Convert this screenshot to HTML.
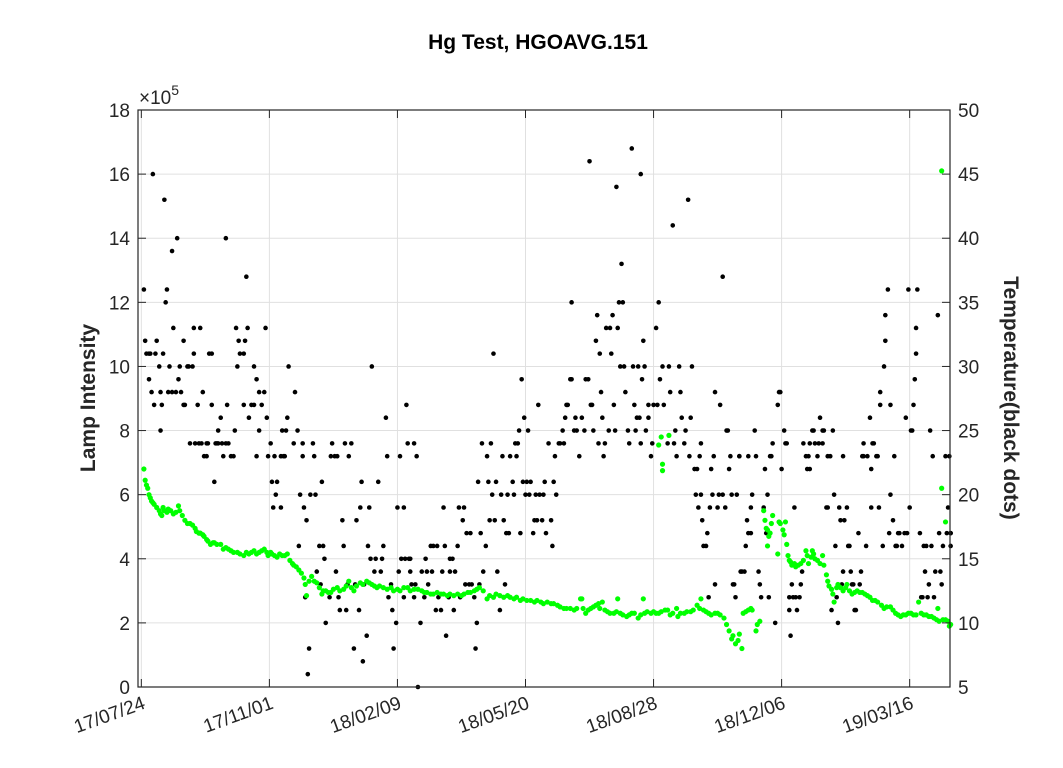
<!DOCTYPE html>
<html><head><meta charset="utf-8"><title>Hg Test, HGOAVG.151</title>
<style>
html,body{margin:0;padding:0;background:#fff;}
svg{display:block;font-family:"Liberation Sans",Arial,sans-serif;}
</style></head>
<body>
<svg id="chart" width="1063" height="768" viewBox="0 0 1063 768" xmlns="http://www.w3.org/2000/svg">
<rect x="0" y="0" width="1063" height="768" fill="#fff"/>
<text x="538" y="49" text-anchor="middle" font-size="21" font-weight="bold" fill="#000">Hg Test, HGOAVG.151</text>
<g id="grid"></g>
<g id="marks"></g>
<g id="axes"></g>
<text x="139" y="104" font-size="19" fill="#262626">×10<tspan dy="-9" font-size="14">5</tspan></text>
<text transform="translate(95,398) rotate(-90)" text-anchor="middle" font-size="21" font-weight="bold" fill="#262626">Lamp Intensity</text>
<text transform="translate(1004,398) rotate(90)" text-anchor="middle" font-size="21" font-weight="bold" fill="#262626">Temperature(black dots)</text>
</svg>
<script>
const xTickDays = [0,100,200,300,400,500,600];
const xTickLabels = ["17/07/24","17/11/01","18/02/09","18/05/20","18/08/28","18/12/06","19/03/16"];
const yTicks = [0,2,4,6,8,10,12,14,16,18];
const y2Ticks = [5,10,15,20,25,30,35,40,45,50];

const tempDay = [
2,3,4,6,6,7,8,9,10,11,
12,14,15,15,16,17,18,19,20,21,
22,24,24,25,27,28,29,30,31,33,
33,34,36,37,38,40,41,41,42,44,
45,46,47,48,49,51,51,52,53,55,
55,57,58,59,60,60,62,63,64,66,
66,67,68,70,72,73,74,75,76,77,
80,80,81,82,83,84,86,88,88,90,
90,92,92,94,96,97,98,99,101,102,
103,104,105,106,109,109,110,111,112,113,
114,115,119,120,122,123,124,126,126,127,
128,129,130,131,132,134,135,136,137,139,
140,141,142,143,144,147,148,149,151,152,
153,154,155,157,158,159,160,161,162,164,
166,167,168,170,171,172,173,174,176,177,
178,179,180,182,183,185,187,188,189,191,
192,193,195,196,197,199,200,201,202,203,
205,205,207,208,209,206,210,210,211,213,
213,214,215,216,218,219,221,222,223,224,
226,227,228,230,231,232,234,235,236,237,
238,240,241,241,243,244,245,247,248,249,
251,252,253,254,256,257,258,260,261,262,
263,264,265,266,267,269,270,271,272,273,
274,275,276,277,278,280,281,282,283,284,
285,286,287,288,290,291,292,293,294,295,
296,297,298,299,300,301,302,303,304,306,
307,308,309,310,311,313,314,315,316,318,
320,321,322,323,324,326,327,329,330,331,
332,333,335,336,336,338,339,340,342,344,
346,347,349,350,351,352,353,355,356,357,
358,359,360,361,362,363,365,366,367,368,
369,370,371,372,373,374,375,376,377,378,
380,381,383,384,385,386,387,388,389,390,
390,391,392,393,394,396,396,398,399,400,
402,403,404,405,407,408,411,412,413,415,
416,417,418,420,421,422,424,425,427,428,
429,430,432,433,434,435,436,437,437,438,
439,441,442,443,444,445,446,447,448,448,
450,451,452,454,454,456,457,458,459,460,
461,462,463,464,465,467,467,468,469,471,
472,473,474,474,476,476,477,479,480,482,
483,484,486,487,488,489,490,491,492,493,
495,497,498,499,500,502,503,504,506,506,
507,508,509,510,511,512,514,515,516,517,
519,520,521,522,522,524,525,526,528,529,
530,532,532,533,535,536,536,538,539,540,
541,542,543,544,545,546,547,548,548,549,
551,552,553,554,555,556,557,558,560,561,
562,563,564,564,566,567,569,570,570,571,
572,574,575,576,577,577,579,580,581,581,
583,584,585,585,587,588,589,590,591,592,
594,596,597,598,599,600,601,602,603,604,
605,605,606,608,609,610,611,612,613,614,
615,616,617,618,619,620,622,623,624,625,
626,628,629,630,631,632,632,632];
const tempC = [
36,32,31,31,29,31,28,45,27,31,
32,30,28,25,27,31,43,35,36,28,
30,28,39,33,28,40,29,30,28,27,
32,27,30,30,24,30,31,33,24,27,
24,33,24,28,23,24,23,24,31,31,
27,21,24,24,24,25,26,24,23,24,
40,27,24,23,23,25,33,30,32,31,
31,27,32,37,33,26,27,27,30,23,
29,28,25,27,28,33,26,23,24,21,
19,23,20,21,19,23,25,23,23,25,
26,30,24,28,25,16,20,23,24,19,
12,18,6,8,20,24,23,20,14,16,
13,21,16,15,10,12,23,24,23,14,
23,12,11,18,16,24,11,13,23,24,
8,13,18,11,19,21,7,13,9,16,
19,15,30,14,15,21,14,15,16,26,
23,12,13,11,8,10,19,14,23,15,
19,12,27,24,15,15,14,15,13,24,
12,13,23,5,10,14,12,15,14,13,
16,14,16,11,16,12,11,14,19,16,
9,12,14,15,15,11,14,16,19,12,
18,19,13,17,13,17,13,12,8,10,
21,13,17,24,14,16,23,21,18,24,
20,31,18,21,14,11,20,23,18,13,
17,20,17,23,21,20,24,23,24,25,
17,29,21,26,20,21,25,20,21,17,
18,20,18,27,20,18,20,21,17,24,
18,16,21,23,20,24,24,25,24,26,
27,27,29,29,35,25,26,25,23,26,
25,29,29,46,27,27,25,32,34,24,
31,28,26,23,24,33,25,33,31,34,
27,25,44,33,35,30,38,35,30,28,
25,24,47,30,27,25,26,30,26,24,
45,29,32,30,25,26,27,23,24,27,
33,27,35,29,30,27,24,30,28,41,
24,25,23,30,28,26,24,25,43,23,
26,30,22,20,22,19,23,24,20,18,
16,16,17,12,19,22,20,23,13,28,
19,20,27,20,37,19,25,25,22,23,
20,13,13,12,20,23,23,14,14,14,
16,18,17,23,17,19,20,25,23,14,
13,12,19,22,17,20,12,23,23,24,
10,27,28,28,22,25,24,24,12,11,
9,13,12,19,12,11,12,13,14,24,
23,22,23,22,24,25,25,24,23,24,
26,25,24,25,19,19,23,23,11,25,
20,16,12,10,19,18,13,23,14,18,
19,16,16,14,13,13,11,11,17,13,
14,23,24,23,16,23,26,22,19,24,
24,23,23,19,28,27,16,30,32,34,
36,17,27,20,18,23,16,16,17,17,
16,17,26,17,36,19,25,25,27,29,
33,31,36,17,12,12,16,14,16,12,
13,25,16,23,12,14,34,17,14,13,
16,23,17,19,23,17,16,17];

const lampDay = [
2,3,4,5,6,7,8,9,10,12,14,15,16,17,18,20,21,23,25,27,
29,30,32,34,36,38,40,42,43,45,46,48,49,51,52,54,56,57,59,62,
64,66,68,70,72,75,77,80,82,84,86,88,90,92,94,96,98,99,101,102,
104,106,108,110,112,114,116,118,119,121,123,125,127,128,129,131,133,135,137,139,
141,142,144,146,148,150,153,155,158,160,162,164,166,168,171,173,176,178,180,182,
184,186,189,192,195,197,200,202,205,208,210,213,216,219,221,223,226,228,231,234,
236,239,241,244,247,250,252,255,257,260,262,264,267,270,272,275,277,280,283,286,
288,291,293,296,298,301,304,307,309,312,314,317,320,322,325,327,330,332,335,338,
340,343,344,345,347,349,351,353,355,357,358,360,362,364,366,369,371,372,374,376,
379,381,383,385,388,390,392,393,395,398,400,402,404,406,407,407,412,404,406,409,
411,413,415,418,419,421,424,426,429,431,434,436,437,439,441,443,445,448,450,452,
455,457,459,461,462,464,466,467,469,470,472,474,476,477,480,481,483,486,487,488,
489,489,490,491,492,493,497,498,499,501,502,503,504,505,506,507,508,510,511,513,
515,517,519,520,521,523,524,525,526,528,530,532,533,535,536,537,539,540,541,543,
544,546,548,550,551,553,555,557,559,561,563,565,567,569,571,573,575,578,580,582,
585,587,589,591,593,595,597,599,601,603,605,607,609,611,613,615,617,619,621,622,
623,625,625,628,626,628,630,631,632];
const lampVal = [
6.8,6.45,6.3,6.2,6.0,5.9,5.8,5.75,5.7,5.6,5.5,5.4,5.35,5.6,5.5,5.45,5.55,5.5,5.4,5.45,
5.65,5.5,5.35,5.2,5.1,5.1,5.05,4.95,4.85,4.8,4.8,4.75,4.7,4.6,4.55,4.45,4.5,4.5,4.45,4.45,
4.3,4.35,4.3,4.25,4.2,4.2,4.15,4.1,4.2,4.15,4.2,4.25,4.15,4.2,4.25,4.3,4.2,4.1,4.2,4.15,
4.1,4.05,4.15,4.1,4.1,4.15,3.95,3.85,3.8,3.75,3.65,3.55,3.4,3.2,2.85,3.3,3.45,3.3,3.25,3.1,
2.9,3.0,3.0,2.95,2.95,3.05,3.1,3.0,3.05,3.15,3.3,3.1,3.0,3.15,3.25,3.2,3.3,3.25,3.2,3.15,
3.1,3.15,3.1,3.05,3.1,3.0,3.05,3.0,3.1,3.1,3.0,3.05,3.05,3.0,2.95,2.95,2.9,2.9,2.95,2.9,
2.9,2.85,2.9,2.85,2.9,2.85,2.9,2.95,2.95,3.0,3.05,3.1,3.0,2.75,2.85,2.8,2.9,2.85,2.8,2.85,
2.8,2.75,2.8,2.7,2.75,2.7,2.7,2.65,2.7,2.65,2.6,2.65,2.6,2.6,2.55,2.5,2.45,2.45,2.45,2.4,
2.45,2.75,2.75,2.45,2.3,2.4,2.45,2.5,2.55,2.6,2.45,2.65,2.4,2.35,2.3,2.3,2.35,2.75,2.3,2.25,
2.2,2.25,2.3,2.3,2.15,2.25,2.75,2.3,2.35,2.3,2.35,2.3,7.55,7.8,6.95,6.75,7.85,2.3,2.35,2.4,
2.4,2.25,2.3,2.45,2.2,2.3,2.3,2.35,2.35,2.4,2.55,2.45,2.75,2.4,2.35,2.3,2.25,2.3,2.3,2.25,
2.15,1.95,1.75,1.5,1.6,1.35,1.45,1.65,1.2,2.3,2.35,2.4,2.45,2.4,1.75,1.95,2.05,5.5,5.2,4.95,
4.9,4.4,4.7,4.8,5.1,5.35,4.15,5.15,5.1,4.9,4.75,5.15,4.45,4.1,3.95,3.9,3.8,3.85,3.75,3.8,
3.85,3.95,4.25,4.1,3.85,4.05,4.25,4.15,4.0,3.95,3.85,4.1,3.8,3.5,3.3,3.15,3.05,2.9,2.65,3.1,
3.2,3.1,3.0,3.1,3.2,3.0,2.9,2.95,3.0,2.95,2.95,2.9,2.85,2.8,2.7,2.7,2.65,2.55,2.45,2.5,
2.5,2.4,2.3,2.25,2.2,2.25,2.25,2.3,2.3,2.25,2.25,2.65,2.3,2.25,2.25,2.2,2.2,2.15,2.1,2.45,
2.05,16.1,6.2,5.15,2.1,2.1,2.05,1.9,1.95];

const NS = "http://www.w3.org/2000/svg";
const PL = 138, PR = 950, PT = 110, PB = 687;
const D0 = -2.6, D1 = 631.5;
function xS(d){ return PL + (d - D0) / (D1 - D0) * (PR - PL); }
function yL(v){ return PB - v / 18 * (PB - PT); }
function yR(t){ return PB - (t - 5) / 45 * (PB - PT); }
function mk(tag, attrs, parent){
  const e = document.createElementNS(NS, tag);
  for (const k in attrs) e.setAttribute(k, attrs[k]);
  parent.appendChild(e);
  return e;
}
const grid = document.getElementById('grid');
const axes = document.getElementById('axes');
const marks = document.getElementById('marks');

xTickDays.forEach((d, i) => {
  const x = xS(d);
  const g = mk('line', {x1:x, x2:x, y1:PT, y2:PB, stroke:'#e0e0e0', 'stroke-width':1}, grid);
  
  
  const t1 = mk('line', {x1:x, x2:x, y1:PB, y2:PB-8, stroke:'#262626', 'stroke-width':1}, axes);
  
  
  const t2 = mk('line', {x1:x, x2:x, y1:PT, y2:PT+8, stroke:'#262626', 'stroke-width':1}, axes);
  
  
  const lb = mk('text', {x:0, y:0, 'text-anchor':'end', 'font-size':19, fill:'#262626',
    transform:'translate(' + (x + 5) + ',' + (PB + 21) + ') rotate(-20)'}, axes);
  lb.textContent = xTickLabels[i];
  
  
});
yTicks.forEach(v => {
  const y = yL(v);
  const g = mk('line', {x1:PL, x2:PR, y1:y, y2:y, stroke:'#e0e0e0', 'stroke-width':1}, grid);
  
  
  const t = mk('line', {x1:PL, x2:PL+8, y1:y, y2:y, stroke:'#262626', 'stroke-width':1}, axes);
  
  
  const lb = mk('text', {x:PL - 8, y:y + 7, 'text-anchor':'end', 'font-size':19, fill:'#262626'}, axes);
  lb.textContent = v;
  
  
});
y2Ticks.forEach(v => {
  const y = yR(v);
  const t = mk('line', {x1:PR-8, x2:PR, y1:y, y2:y, stroke:'#262626', 'stroke-width':1}, axes);
  
  
  const lb = mk('text', {x:PR + 8, y:y + 7, 'text-anchor':'start', 'font-size':19, fill:'#262626'}, axes);
  lb.textContent = v;
  
  
});
const frame = mk('rect', {x:PL, y:PT, width:PR-PL, height:PB-PT, fill:'none', stroke:'#262626', 'stroke-width':1.2}, axes);



const n1 = Math.min(tempDay.length, tempC.length);
for (let i = 0; i < n1; i++) {
  const c = mk('circle', {cx:xS(tempDay[i]), cy:yR(tempC[i]), r:2.3, fill:'#000'}, marks);
  
  
}
const n2 = Math.min(lampDay.length, lampVal.length);
for (let i = 0; i < n2; i++) {
  const c = mk('circle', {cx:xS(lampDay[i]), cy:yL(lampVal[i]), r:2.6, fill:'#00ff00'}, marks);
  
  
}
</script>
</body></html>
